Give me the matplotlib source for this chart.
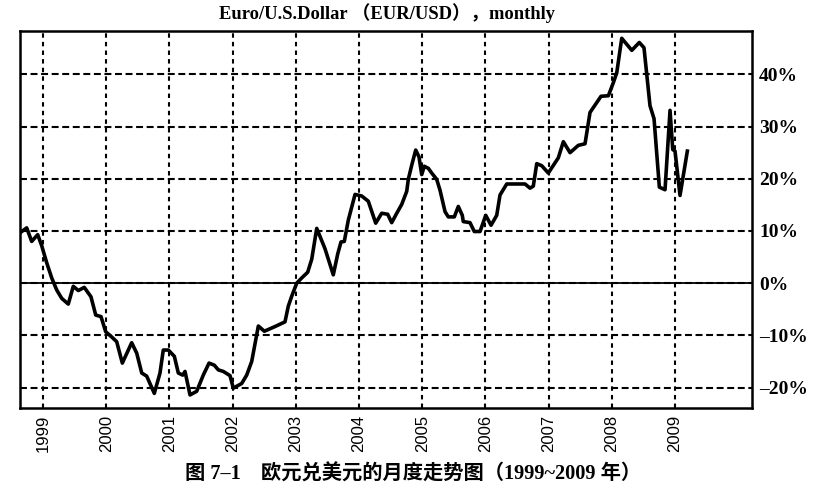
import matplotlib
matplotlib.use("Agg")
import matplotlib.pyplot as plt

plt.rcParams['lines.scale_dashes'] = False

# Month positions (decimal years) and EUR/USD change (%)
dates = [1998.652, 1998.742, 1998.821, 1998.916, 1998.979, 1999.059, 1999.138, 1999.217,
         1999.296, 1999.400, 1999.479, 1999.559, 1999.653, 1999.759, 1999.834, 1999.918,
         1999.992, 2000.087, 2000.166, 2000.255, 2000.403, 2000.483, 2000.562, 2000.641,
         2000.761, 2000.851, 2000.903, 2000.983, 2001.078, 2001.141, 2001.210, 2001.247,
         2001.326, 2001.432, 2001.536, 2001.627, 2001.710, 2001.774, 2001.853, 2001.959,
         2002.011, 2002.144, 2002.223, 2002.302, 2002.407, 2002.502, 2002.671, 2002.829,
         2002.881, 2002.935, 2003.014, 2003.093, 2003.188, 2003.252, 2003.331, 2003.462,
         2003.593, 2003.663, 2003.715, 2003.767, 2003.831, 2003.937, 2004.043, 2004.147,
         2004.264, 2004.359, 2004.454, 2004.517, 2004.597, 2004.676, 2004.755, 2004.780,
         2004.834, 2004.897, 2004.949, 2004.992, 2005.033, 2005.097, 2005.150, 2005.229,
         2005.282, 2005.361, 2005.413, 2005.508, 2005.571, 2005.634, 2005.650, 2005.756,
         2005.824, 2005.915, 2006.005, 2006.089, 2006.179, 2006.231, 2006.337, 2006.627,
         2006.706, 2006.758, 2006.812, 2006.891, 2006.995, 2007.153, 2007.233, 2007.339,
         2007.470, 2007.576, 2007.655, 2007.829, 2007.945, 2008.024, 2008.078, 2008.157,
         2008.316, 2008.435, 2008.509, 2008.604, 2008.668, 2008.752, 2008.842, 2008.921,
         2008.964, 2009.000, 2009.079, 2009.195]

values = [9.8, 10.6, 8.0, 9.3, 7.2, 3.9, 1.0, -1.3,
          -2.9, -4.0, -0.6, -1.4, -0.8, -2.6, -6.1, -6.4,
          -9.3, -10.3, -11.2, -15.3, -11.4, -13.4, -17.2, -17.8,
          -21.1, -17.2, -12.8, -12.8, -14.0, -17.2, -17.6, -16.9,
          -21.4, -20.7, -17.6, -15.3, -15.7, -16.6, -16.9, -17.7,
          -20.1, -19.2, -17.6, -15.0, -8.2, -9.2, -8.3, -7.4,
          -4.4, -2.5, 0.0, 1.0, 2.1, 4.6, 10.5, 6.6,
          1.6, 5.6, 7.9, 8.0, 12.1, 17.0, 16.7, 15.7,
          11.5, 13.4, 13.2, 11.6, 13.4, 15.1, 17.6, 19.9,
          22.6, 25.5, 24.2, 20.8, 22.4, 22.0, 21.1, 19.9,
          17.8, 13.7, 12.7, 12.7, 14.7, 13.0, 11.8, 11.6,
          9.9, 9.9, 13.0, 11.1, 13.0, 16.9, 19.0, 19.0,
          18.2, 18.6, 22.9, 22.5, 21.1, 24.0, 27.1, 25.0,
          26.4, 26.7, 32.7, 35.8, 35.9, 38.4, 40.3, 46.9,
          44.6, 46.1, 45.1, 34.0, 31.5, 18.4, 17.9, 33.1,
          25.6, 25.3, 16.8, 25.3]

year_ticks = [1999, 2000, 2001, 2002, 2003, 2004, 2005, 2006, 2007, 2008, 2009]
year_labels = ["1999", "2000", "2001", "2002", "2003", "2004", "2005", "2006", "2007", "2008", "2009"]
pct_ticks = [-20, -10, 0, 10, 20, 30, 40]
pct_labels = ["–20%", "–10%", "0%", "10%", "20%", "30%", "40%"]

title = "Euro/U.S.Dollar （EUR/USD），monthly"
caption = "图 7–1　欧元兑美元的月度走势图（1999~2009 年）"

fig = plt.figure(figsize=(8.32, 4.95), dpi=100)
ax = fig.add_axes([20 / 832, 1 - 408 / 495, (752 - 20) / 832, (408 - 31) / 495])

ax.set_xlim(1998.636, 2010.218)
ax.set_ylim(-23.9, 48.3)

ax.set_xticks(year_ticks)
ax.set_xticklabels(year_labels, rotation=90, family='Liberation Sans', fontsize=12)
ax.set_yticks(pct_ticks)
ax.set_yticklabels(pct_labels, family='Liberation Serif', fontsize=14, fontweight='bold')
ax.yaxis.tick_right()
ax.tick_params(axis='x', length=0, pad=5)
ax.tick_params(axis='y', length=0, pad=5)

ax.xaxis.grid(True, color='black', linewidth=1.5, linestyle=(0, (3.2, 3.0)))
ax.yaxis.grid(True, color='black', linewidth=1.5, linestyle=(0, (5.0, 2.6)))
ax.set_axisbelow(True)
ax.axhline(0, color='black', linewidth=1.3, zorder=2)

ax.plot(dates, values, color='black', linewidth=2.6, zorder=3)

for s in ax.spines.values():
    s.set_linewidth(1.8)
    s.set_color('black')

fig.text(387 / 832, 1 - 13 / 495, title, ha='center', va='center',
         family=['Liberation Serif', 'Noto Sans CJK SC'], fontsize=13.3, fontweight='bold')
fig.text(413 / 832, 1 - 474 / 495, caption, ha='center', va='center',
         family=['Liberation Serif', 'Noto Sans CJK SC'], fontsize=14.6, fontweight='bold')

fig.savefig("out.png", dpi=100, facecolor='white')
